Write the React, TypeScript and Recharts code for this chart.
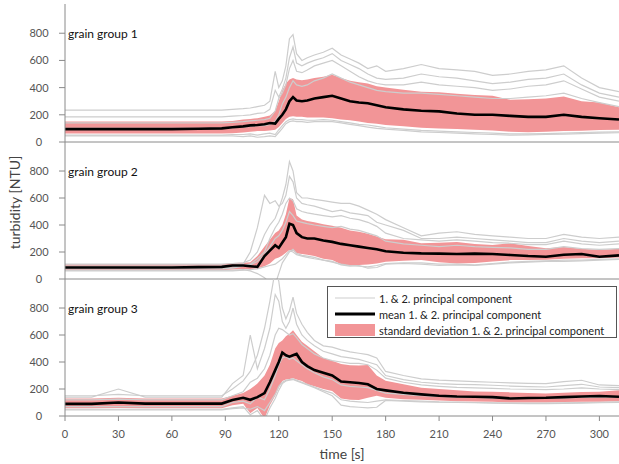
import React from 'react'
import { ComposedChart, Line, Area, XAxis, YAxis, Legend, Label } from 'recharts'

// time axis [s], shared by all three grain groups
const time = [0, 15, 30, 45, 60, 75, 88, 94, 100, 104, 108, 112, 115, 118, 120, 122, 124, 126, 128, 130, 133, 136, 140, 145, 150, 155, 160, 165, 170, 175, 180, 190, 200, 210, 220, 230, 240, 250, 260, 270, 280, 290, 300, 311]

const bottomTicks = [0, 30, 60, 90, 120, 150, 180, 210, 240, 270, 300]
const innerTicks = [0, 62.5, 125, 187.5, 250]
const yTicks = [0, 200, 400, 600, 800]

const panelLabels = ['grain group 1', 'grain group 2', 'grain group 3']
const legendLabels = [
  '1. & 2. principal component',
  'mean 1. & 2. principal component',
  'standard deviation 1. & 2. principal component',
]

// grain group 1
const mean1 = [95, 95, 95, 95, 95, 97, 100, 108, 115, 122, 125, 130, 140, 135, 170, 200, 240, 300, 330, 305, 300, 305, 320, 330, 340, 320, 300, 290, 285, 270, 255, 240, 230, 225, 210, 200, 200, 192, 185, 185, 200, 185, 175, 165]
const lo1 = [62, 62, 62, 62, 62, 62, 62, 65, 70, 75, 80, 80, 85, 90, 110, 140, 170, 185, 190, 185, 185, 180, 180, 180, 175, 165, 160, 150, 140, 135, 125, 115, 105, 100, 95, 90, 85, 75, 72, 75, 80, 82, 88, 90]
const hi1 = [150, 150, 150, 150, 150, 150, 150, 155, 165, 170, 175, 185, 195, 230, 300, 380, 430, 460, 470, 460, 455, 460, 470, 480, 495, 470, 450, 440, 430, 410, 400, 385, 370, 365, 355, 345, 340, 310, 315, 320, 335, 300, 290, 255]
const pc1 = [
  [235, 235, 235, 235, 235, 235, 235, 240, 245, 250, 260, 270, 300, 520, 400, 450, 560, 760, 790, 650, 600, 620, 640, 660, 690, 640, 610, 580, 540, 560, 520, 540, 570, 540, 530, 520, 490, 500, 520, 530, 560, 470, 400, 370],
  [185, 185, 185, 185, 185, 185, 185, 190, 195, 200, 210, 215, 240, 380, 330, 390, 470, 620, 700, 580, 560, 580, 600, 620, 650, 600, 570, 540, 500, 470, 460, 470, 500, 480, 470, 450, 430, 440, 460, 470, 500, 420, 360, 330],
  [140, 140, 140, 140, 140, 140, 140, 145, 150, 155, 160, 165, 175, 230, 320, 360, 420, 540, 600, 520, 510, 530, 560, 580, 600, 560, 520, 480, 450, 430, 420, 420, 440, 420, 410, 400, 380, 390, 410, 420, 450, 390, 330, 300],
  [100, 100, 100, 100, 100, 100, 100, 105, 110, 115, 120, 120, 130, 150, 200, 280, 330, 400, 450, 420, 410, 420, 450, 470, 500, 470, 440, 420, 400, 380, 370, 360, 360, 350, 340, 330, 320, 320, 330, 340, 360, 320, 290, 260],
  [50, 50, 50, 50, 50, 50, 50, 55, 55, 60, 50, 60, 65, 55, 90, 120, 150, 165, 170, 165, 165, 160, 160, 165, 160, 150, 140, 130, 125, 115, 105, 95, 85, 80, 75, 70, 65, 60, 60, 62, 65, 70, 72, 75],
  [45, 45, 45, 45, 45, 45, 45, 45, 40, 45, 35, 40, 45, 40, 70, 100, 135, 150, 155, 150, 150, 145, 150, 150, 150, 140, 130, 120, 110, 100, 95, 85, 75, 70, 65, 60, 55, 50, 52, 55, 58, 62, 65, 68],
]

// grain group 2
const mean2 = [85, 85, 85, 85, 85, 88, 90, 100, 100, 95, 90, 170, 210, 250, 230, 270, 310, 410, 400, 340, 310, 300, 300, 285, 275, 260, 250, 240, 230, 220, 205, 195, 190, 188, 185, 188, 185, 178, 170, 165, 180, 185, 165, 175]
const lo2 = [65, 65, 65, 65, 65, 65, 65, 70, 75, 75, 78, 95, 115, 150, 160, 175, 195, 215, 210, 190, 185, 180, 170, 150, 140, 110, 100, 103, 108, 115, 128, 135, 140, 125, 115, 118, 130, 140, 140, 142, 150, 153, 153, 160]
const hi2 = [110, 110, 110, 110, 110, 110, 110, 118, 120, 125, 170, 240, 290, 340, 360, 400, 480, 600, 590, 470, 440, 430, 420, 405, 395, 380, 360, 350, 335, 315, 295, 290, 265, 268, 275, 260, 252, 265, 245, 228, 238, 225, 214, 225]
const pc2 = [
  [110, 110, 110, 110, 110, 110, 110, 115, 120, 140, 200, 330, 400, 450, 520, 600, 700, 870, 800, 640, 600, 600, 590, 580, 570, 560, 560, 540, 510, 480, 440, 380, 320, 340, 350, 330, 320, 310, 300, 300, 330, 310, 300, 310],
  [95, 95, 95, 95, 95, 95, 95, 100, 110, 200, 380, 620, 560, 580, 540, 560, 620, 760, 720, 600, 560, 550, 540, 520, 500, 510, 490, 480, 470, 420, 400, 360, 300, 300, 310, 300, 290, 280, 270, 270, 300, 280, 270, 280],
  [85, 85, 85, 85, 85, 85, 85, 90, 100, 110, 150, 200, 300, 380, 420, 480, 560, 600, 580, 520, 500, 490, 480, 470, 460, 470, 450, 440, 420, 390, 340, 300, 290, 280, 290, 280, 270, 265, 255, 255, 280, 260, 250, 260],
  [75, 75, 75, 75, 75, 75, 75, 80, 95, 105, 130, 180, 240, 300, 320, 360, 420, 500, 470, 430, 420, 410, 400, 390, 380, 390, 370, 360, 340, 320, 280, 260, 250, 240, 250, 240, 235, 230, 220, 220, 240, 225, 220, 225],
  [65, 65, 65, 65, 65, 65, 65, 65, 70, 60, 40, 10, -30, -40, 40, 120, 160, 200, 220, 190, 175, 170, 160, 140, 130, 105, 95, 100, 80, 85, 110, 115, 110, 100, 105, 100, 110, 120, 125, 130, 130, 135, 140, 145],
  [60, 60, 60, 60, 60, 60, 60, 60, 65, 70, 75, 90, 100, 110, 130, 150, 180, 210, 200, 180, 170, 160, 150, 140, 125, 110, 100, 95, 90, 100, 115, 120, 120, 110, 110, 105, 115, 125, 130, 135, 140, 140, 145, 150],
]

// grain group 3
const mean3 = [90, 90, 100, 92, 92, 92, 92, 118, 135, 120, 140, 170, 250, 340, 400, 470, 450, 440, 450, 460, 400, 370, 340, 320, 300, 255, 250, 245, 235, 200, 190, 172, 160, 150, 145, 143, 140, 130, 133, 135, 140, 145, 148, 143]
const lo3 = [57, 57, 60, 57, 57, 57, 57, 80, 90, 20, 60, -20, 80, 150, 210, 260, 270, 275, 280, 270, 260, 235, 220, 200, 185, 130, 120, 118, 135, 150, 135, 125, 120, 115, 110, 107, 105, 100, 100, 100, 103, 106, 106, 110]
const hi3 = [130, 130, 135, 130, 130, 130, 130, 150, 170, 200, 240, 300, 380, 500, 540, 560, 590, 610, 635, 600, 550, 520, 480, 430, 410, 385, 376, 375, 378, 300, 262, 235, 210, 200, 190, 182, 180, 175, 170, 167, 172, 178, 180, 190]
const pc3 = [
  [150, 150, 160, 150, 150, 150, 150, 200, 260, 330, 450, 650, 850, 1080, 1000, 800, 720, 780, 880, 760, 680, 620, 560, 520, 510, 490, 475, 465, 455, 430, 330, 300, 275, 266, 260, 255, 250, 245, 242, 240, 255, 265, 230, 225],
  [140, 140, 200, 140, 140, 140, 140, 240, 300, 600, 350, 500, 650, 900, 850, 700, 650, 700, 800, 680, 600, 560, 520, 480, 460, 440, 430, 420, 400, 380, 300, 270, 250, 240, 235, 232, 228, 222, 218, 215, 225, 235, 215, 210],
  [120, 120, 125, 120, 120, 120, 120, 150, 180, 250, 280, 350, 450, 600, 650, 640, 620, 600, 610, 580, 530, 500, 460, 430, 410, 400, 390, 390, 380, 340, 280, 250, 230, 220, 212, 208, 205, 200, 198, 195, 200, 208, 200, 195],
  [70, 70, 70, 70, 70, 70, 70, 100, 110, 90, 140, 120, 200, 300, 380, 430, 440, 420, 430, 410, 380, 350, 320, 290, 270, 230, 220, 215, 210, 190, 170, 160, 150, 145, 140, 138, 135, 130, 130, 132, 135, 138, 140, 140],
  [50, 50, 50, 50, 50, 50, 50, 60, 70, 10, 40, -30, 60, 130, 190, 240, 260, 265, 270, 260, 245, 230, 210, 180, 150, 80, 70, 65, 60, 65, 115, 110, 105, 102, 100, 98, 95, 93, 92, 92, 94, 96, 98, 100],
  [45, 45, 45, 45, 45, 45, 45, 55, 60, 50, 70, 40, 100, 160, 220, 250, 265, 270, 275, 265, 250, 235, 215, 190, 170, 120, 110, 105, 100, 110, 120, 115, 110, 105, 103, 100, 98, 96, 95, 95, 97, 100, 102, 105],
]

const FONT = 'Lato, "Open Sans", sans-serif'
const AXIS = '#8a8a8a'
const PINK = '#f29597'
const GREY = '#cdcdcd'

function buildRows(mean: number[], lo: number[], hi: number[], pcs: number[][]) {
  return time.map((t, i) => {
    const row: Record<string, any> = { t, mean: mean[i], band: [lo[i], hi[i]] }
    pcs.forEach((pc, k) => {
      row['pc' + k] = pc[i]
    })
    return row
  })
}

const YTick = (props: any) => {
  const { x, y, payload } = props
  return (
    <text x={x - 18} y={y} dy={4} textAnchor="middle" fill="#555" fontSize={11} fontFamily={FONT}>
      {payload.value}
    </text>
  )
}

const YLabel = (props: any) => {
  const vb = props.viewBox
  const cx = 16
  const cy = vb.y + vb.height / 2 - 8
  return (
    <text x={cx} y={cy} dy={4} textAnchor="middle" transform={`rotate(-90 ${cx} ${cy})`} fill="#444" fontSize={14} fontFamily={FONT}>
      turbidity [NTU]
    </text>
  )
}

const renderLegend = () => (
  <div
    style={{
      boxSizing: 'border-box',
      width: 290,
      height: 52,
      border: '1px solid #555',
      background: '#fff',
      padding: '3px 0 0 7px',
      fontFamily: FONT,
      fontSize: 11,
      color: '#222',
    }}
  >
    {legendLabels.map((text, i) => (
      <div key={text} style={{ display: 'flex', alignItems: 'center', height: 16 }}>
        <svg width={40} height={14} style={{ marginRight: 4 }}>
          {i === 0 && <line x1={0} x2={40} y1={7} y2={7} stroke={GREY} strokeWidth={1.2} />}
          {i === 1 && <line x1={0} x2={40} y1={7} y2={7} stroke="#000" strokeWidth={3} />}
          {i === 2 && <rect x={0} y={1} width={40} height={12} fill={PINK} />}
        </svg>
        <span>{text}</span>
      </div>
    ))}
  </div>
)

interface PanelProps {
  index: number
  rows: Record<string, any>[]
  top: number
  height: number
  marginTop: number
  xHeight: number
  bottom?: boolean
}

function Panel({ index, rows, top, height, marginTop, xHeight, bottom }: PanelProps) {
  return (
    <div style={{ position: 'absolute', left: 0, top }}>
      <ComposedChart width={619} height={height} data={rows} margin={{ top: marginTop, right: 0, bottom: 0, left: 0 }}>
        <XAxis
          dataKey="t"
          type="number"
          domain={[0, 311]}
          allowDataOverflow
          ticks={bottom ? bottomTicks : innerTicks}
          interval={0}
          tick={bottom ? { fill: '#555', fontSize: 11, fontFamily: FONT } : false}
          tickSize={5}
          tickMargin={9}
          height={xHeight}
          axisLine={{ stroke: AXIS }}
          tickLine={{ stroke: AXIS }}
        >
          {bottom && (
            <Label value="time [s]" position="insideBottom" offset={5} fill="#444" fontSize={14} fontFamily={FONT} />
          )}
        </XAxis>
        <YAxis
          type="number"
          domain={[0, 1015]}
          allowDataOverflow
          ticks={yTicks}
          interval={0}
          width={65}
          tickSize={6}
          tick={<YTick />}
          axisLine={{ stroke: AXIS }}
          tickLine={{ stroke: AXIS }}
        >
          {index === 1 && <Label content={<YLabel />} />}
        </YAxis>
        {[0, 1, 2, 3, 4, 5].map((k) => (
          <Line
            key={k}
            type="linear"
            dataKey={'pc' + k}
            stroke={GREY}
            strokeWidth={1.2}
            dot={false}
            activeDot={false}
            isAnimationActive={false}
          />
        ))}
        <Area type="linear" dataKey="band" fill={PINK} fillOpacity={1} stroke="none" isAnimationActive={false} />
        <Line type="linear" dataKey="mean" stroke="#000" strokeWidth={2.6} dot={false} activeDot={false} isAnimationActive={false} />
        <text x={68} y={marginTop + 34} fill="#111" fontSize={12} fontFamily={FONT}>
          {panelLabels[index]}
        </text>
        {bottom && (
          <Legend
            verticalAlign="middle"
            align="center"
            layout="horizontal"
            content={renderLegend}
            wrapperStyle={{ left: 327, top: 7, width: 290, height: 52 }}
          />
        )}
      </ComposedChart>
    </div>
  )
}

export default function App() {
  const rows1 = buildRows(mean1, lo1, hi1, pc1)
  const rows2 = buildRows(mean2, lo2, hi2, pc2)
  const rows3 = buildRows(mean3, lo3, hi3, pc3)
  return (
    <div style={{ position: 'absolute', left: 0, top: 0, width: 619, height: 464, background: '#fff' }}>
      <Panel index={0} rows={rows1} top={0} height={150} marginTop={4} xHeight={8} />
      <Panel index={1} rows={rows2} top={142} height={145} marginTop={0} xHeight={8} />
      <Panel index={2} rows={rows3} top={279} height={185} marginTop={0} xHeight={48} bottom />
    </div>
  )
}
